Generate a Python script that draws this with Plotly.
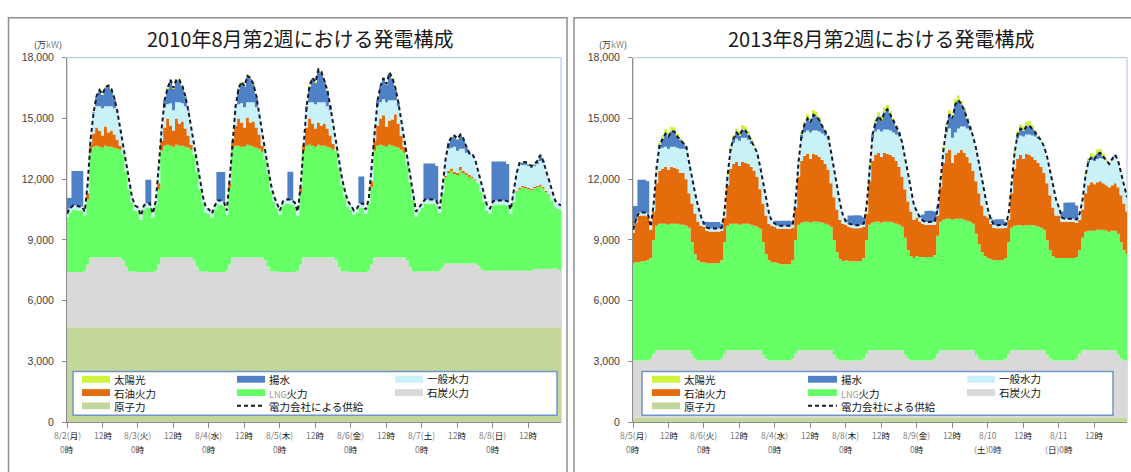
import plotly.graph_objects as go

W, H = 1131, 472
HOURS = list(range(168))

# ---------------- 2010, week of Aug 2 (unit: 万kW), one row per day, hours 0..23 ----------------
nuclear_2010 = [
    [4680, 4680, 4680, 4680, 4680, 4680, 4680, 4680, 4680, 4680, 4680, 4680, 4680, 4680, 4680, 4680, 4680, 4680, 4680, 4680, 4680, 4680, 4680, 4680],
    [4680, 4680, 4680, 4680, 4680, 4680, 4680, 4680, 4680, 4680, 4680, 4680, 4680, 4680, 4680, 4680, 4680, 4680, 4680, 4680, 4680, 4680, 4680, 4680],
    [4680, 4680, 4680, 4680, 4680, 4680, 4680, 4680, 4680, 4680, 4680, 4680, 4680, 4680, 4680, 4680, 4680, 4680, 4680, 4680, 4680, 4680, 4680, 4680],
    [4680, 4680, 4680, 4680, 4680, 4680, 4680, 4680, 4680, 4680, 4680, 4680, 4680, 4680, 4680, 4680, 4680, 4680, 4680, 4680, 4680, 4680, 4680, 4680],
    [4680, 4680, 4680, 4680, 4680, 4680, 4680, 4680, 4680, 4680, 4680, 4680, 4680, 4680, 4680, 4680, 4680, 4680, 4680, 4680, 4680, 4680, 4680, 4680],
    [4680, 4680, 4680, 4680, 4680, 4680, 4680, 4680, 4680, 4680, 4680, 4680, 4680, 4680, 4680, 4680, 4680, 4680, 4680, 4680, 4680, 4680, 4680, 4680],
    [4680, 4680, 4680, 4680, 4680, 4680, 4680, 4680, 4680, 4680, 4680, 4680, 4680, 4680, 4680, 4680, 4680, 4680, 4680, 4680, 4680, 4680, 4680, 4680],
]
coal_2010 = [
    [2740, 2740, 2740, 2740, 2740, 2740, 2800, 3100, 3450, 3450, 3450, 3450, 3450, 3450, 3450, 3450, 3450, 3450, 3450, 3300, 3000, 2760, 2760, 2760],
    [2740, 2740, 2740, 2740, 2740, 2740, 2800, 3100, 3450, 3450, 3450, 3450, 3450, 3450, 3450, 3450, 3450, 3450, 3450, 3300, 3000, 2760, 2760, 2760],
    [2740, 2740, 2740, 2740, 2740, 2740, 2800, 3100, 3450, 3450, 3450, 3450, 3450, 3450, 3450, 3450, 3450, 3450, 3450, 3300, 3000, 2760, 2760, 2760],
    [2740, 2740, 2740, 2740, 2740, 2740, 2800, 3100, 3450, 3450, 3450, 3450, 3450, 3450, 3450, 3450, 3450, 3450, 3450, 3300, 3000, 2760, 2760, 2760],
    [2740, 2740, 2740, 2740, 2740, 2740, 2800, 3100, 3450, 3450, 3450, 3450, 3450, 3450, 3450, 3450, 3450, 3450, 3450, 3300, 3000, 2760, 2760, 2760],
    [2760, 2760, 2760, 2760, 2760, 2760, 2800, 2950, 3150, 3150, 3150, 3150, 3150, 3150, 3150, 3150, 3150, 3150, 3150, 3050, 2900, 2800, 2800, 2800],
    [2800, 2800, 2800, 2800, 2800, 2800, 2800, 2800, 2800, 2800, 2800, 2800, 2800, 2800, 2880, 2880, 2880, 2880, 2880, 2880, 2880, 2950, 2850, 2800],
]
lng_2010 = [
    [2680, 2930, 3080, 3080, 3030, 3030, 2720, 3220, 5170, 5470, 5520, 5470, 5420, 5520, 5470, 5470, 5420, 5370, 5320, 5220, 4670, 4060, 3410, 3010],
    [2980, 2580, 3080, 3180, 3180, 2680, 3220, 3720, 5270, 5520, 5570, 5520, 5470, 5570, 5520, 5520, 5470, 5420, 5320, 5220, 4670, 4060, 3410, 2910],
    [2880, 2680, 3080, 3330, 3330, 3280, 2770, 3820, 5370, 5520, 5520, 5470, 5470, 5570, 5520, 5470, 5420, 5370, 5220, 5020, 4570, 3960, 3460, 3110],
    [2830, 3280, 3380, 3380, 3330, 3230, 2720, 3520, 5270, 5520, 5570, 5520, 5470, 5570, 5520, 5520, 5470, 5420, 5320, 5420, 4870, 4260, 3710, 3210],
    [3080, 2830, 2930, 3180, 3180, 2880, 3320, 3820, 5270, 5520, 5570, 5520, 5470, 5570, 5520, 5470, 5420, 5320, 5170, 4720, 4170, 3560, 2710, 2960],
    [3160, 3360, 3360, 3360, 3360, 3260, 2870, 3670, 4270, 4470, 4570, 4420, 4370, 4620, 4470, 4370, 4270, 4220, 4120, 4070, 3820, 3420, 2970, 2820],
    [3220, 3270, 3270, 3270, 3270, 3220, 2820, 3420, 3870, 4020, 4120, 4070, 4020, 3970, 3990, 4040, 4090, 3990, 3790, 3640, 3390, 3020, 3020, 3020],
]
oil_2010 = [
    [0, 0, 0, 0, 0, 0, 0, 300, 400, 650, 900, 800, 600, 950, 700, 800, 650, 450, 200, 0, 0, 0, 0, 0],
    [0, 0, 0, 0, 0, 0, 0, 300, 500, 900, 1300, 1000, 800, 1300, 1100, 1200, 900, 600, 250, 0, 0, 0, 0, 0],
    [0, 0, 0, 0, 0, 0, 0, 200, 400, 1000, 1350, 1200, 950, 1350, 1150, 1250, 1000, 700, 300, 0, 0, 0, 0, 0],
    [0, 0, 0, 0, 0, 0, 0, 300, 300, 900, 1300, 1100, 900, 1100, 1000, 1100, 900, 600, 300, 0, 0, 0, 0, 0],
    [0, 0, 0, 0, 0, 0, 0, 300, 500, 1000, 1300, 1500, 1000, 1200, 1300, 1600, 1200, 700, 300, 0, 0, 0, 0, 0],
    [0, 0, 0, 0, 0, 0, 0, 0, 50, 100, 120, 120, 100, 150, 120, 100, 100, 80, 50, 0, 0, 0, 0, 0],
    [0, 0, 0, 0, 0, 0, 0, 0, 50, 80, 80, 80, 80, 80, 80, 80, 80, 80, 80, 50, 0, 0, 0, 0],
]
hydro_2010 = [
    [200, 200, 200, 200, 200, 200, 200, 500, 300, 1000, 1050, 1200, 1350, 1000, 1300, 1200, 1300, 1350, 850, 400, 350, 300, 250, 250],
    [200, 200, 200, 200, 200, 200, 200, 800, 600, 1000, 700, 1100, 1000, 800, 1050, 900, 1100, 1200, 800, 400, 350, 300, 250, 250],
    [200, 200, 200, 200, 200, 200, 200, 200, 150, 900, 700, 950, 1000, 750, 1000, 950, 1000, 1100, 650, 400, 350, 300, 250, 250],
    [200, 200, 200, 200, 200, 200, 200, 100, 100, 900, 800, 1050, 1200, 1000, 1150, 1050, 1100, 1250, 950, 400, 350, 300, 250, 250],
    [200, 200, 200, 200, 200, 200, 200, 800, 600, 950, 800, 800, 1200, 1000, 950, 700, 850, 850, 400, 400, 350, 300, 250, 200],
    [200, 200, 200, 200, 200, 200, 200, 400, 850, 1100, 1030, 1230, 1100, 900, 1080, 1000, 1000, 1120, 950, 600, 400, 300, 250, 250],
    [200, 200, 200, 200, 200, 200, 200, 500, 900, 1150, 1020, 1070, 1070, 1020, 1020, 1070, 1170, 1170, 970, 650, 450, 300, 230, 200],
]
pumped_2010 = [
    [770, 520, 1700, 1700, 1750, 1750, 0, 0, 0, 50, 450, 750, 650, 900, 970, 800, 470, 50, 0, 0, 0, 0, 0, 0],
    [0, 0, 0, 1170, 1170, 0, 0, 0, 0, 350, 750, 1100, 1050, 1090, 1050, 800, 480, 50, 0, 0, 0, 0, 0, 0],
    [0, 0, 0, 1400, 1400, 1450, 0, 0, 0, 50, 750, 1000, 1000, 1250, 1150, 850, 530, 0, 0, 0, 0, 0, 0, 0],
    [0, 0, 0, 1370, 1420, 0, 0, 0, 0, 150, 750, 1150, 1050, 1570, 1450, 1050, 780, 200, 0, 0, 0, 0, 0, 0],
    [0, 0, 0, 1330, 1330, 0, 0, 0, 0, 300, 750, 1000, 850, 1310, 1050, 550, 180, 0, 0, 0, 0, 0, 0, 0],
    [0, 1770, 1770, 1770, 1770, 1750, 0, 0, 0, 300, 520, 520, 570, 680, 470, 280, 100, 0, 0, 0, 0, 0, 0, 0],
    [1970, 1920, 1920, 1920, 1920, 1850, 0, 0, 0, 50, 120, 120, 70, 70, 70, 120, 280, 100, 0, 0, 0, 0, 0, 0],
]
solar_2010 = [
    [0, 0, 0, 0, 0, 0, 0, 0, 0, 0, 50, 50, 50, 50, 50, 50, 30, 0, 0, 0, 0, 0, 0, 0],
    [0, 0, 0, 0, 0, 0, 0, 0, 0, 0, 50, 50, 50, 50, 50, 50, 20, 0, 0, 0, 0, 0, 0, 0],
    [0, 0, 0, 0, 0, 0, 0, 0, 0, 0, 50, 50, 50, 50, 50, 50, 20, 0, 0, 0, 0, 0, 0, 0],
    [0, 0, 0, 0, 0, 0, 0, 0, 0, 0, 50, 50, 50, 50, 50, 50, 20, 0, 0, 0, 0, 0, 0, 0],
    [0, 0, 0, 0, 0, 0, 0, 0, 0, 0, 50, 50, 50, 50, 50, 50, 20, 0, 0, 0, 0, 0, 0, 0],
    [0, 0, 0, 0, 0, 0, 0, 0, 0, 0, 30, 30, 30, 30, 30, 20, 0, 0, 0, 0, 0, 0, 0, 0],
    [0, 0, 0, 0, 0, 0, 0, 0, 0, 20, 30, 30, 30, 30, 30, 30, 20, 0, 0, 0, 0, 0, 0, 0],
]
supply_2010 = [
    [10300, 10550, 10700, 10700, 10650, 10650, 10400, 11800, 14000, 15300, 16100, 16400, 16200, 16550, 16620, 16450, 16000, 15350, 14500, 13600, 12700, 11800, 11100, 10700],
    [10600, 10200, 10700, 10800, 10800, 10300, 10900, 12600, 14500, 15900, 16500, 16900, 16500, 16940, 16900, 16600, 16100, 15400, 14500, 13600, 12700, 11800, 11100, 10600],
    [10500, 10300, 10700, 10950, 10950, 10900, 10450, 12000, 14050, 15600, 16500, 16800, 16600, 17100, 17000, 16700, 16100, 15300, 14300, 13400, 12600, 11700, 11150, 10800],
    [10450, 10900, 11000, 11000, 10950, 10850, 10400, 11700, 13800, 15600, 16600, 17000, 16800, 17420, 17300, 16900, 16400, 15600, 14700, 13800, 12900, 12000, 11400, 10900],
    [10700, 10450, 10550, 10800, 10800, 10500, 11000, 12700, 14500, 15900, 16600, 17000, 16700, 17260, 17000, 16500, 15800, 15000, 14000, 13100, 12200, 11300, 10400, 10600],
    [10800, 11000, 11000, 11000, 11000, 10900, 10550, 11700, 13000, 13800, 14100, 14150, 14000, 14210, 14000, 13600, 13300, 13250, 12950, 12400, 11800, 11200, 10700, 10550],
    [10900, 10950, 10950, 10950, 10950, 10900, 10500, 11400, 12300, 12800, 12850, 12850, 12750, 12650, 12750, 12900, 13200, 12900, 12400, 11900, 11400, 10950, 10780, 10700],
]

# ---------------- 2013, week of Aug 5 (unit: 万kW), one row per day, hours 0..23 ----------------
nuclear_2013 = [
    [230, 230, 230, 230, 230, 230, 230, 230, 230, 230, 230, 230, 230, 230, 230, 230, 230, 230, 230, 230, 230, 230, 230, 230],
    [230, 230, 230, 230, 230, 230, 230, 230, 230, 230, 230, 230, 230, 230, 230, 230, 230, 230, 230, 230, 230, 230, 230, 230],
    [230, 230, 230, 230, 230, 230, 230, 230, 230, 230, 230, 230, 230, 230, 230, 230, 230, 230, 230, 230, 230, 230, 230, 230],
    [230, 230, 230, 230, 230, 230, 230, 230, 230, 230, 230, 230, 230, 230, 230, 230, 230, 230, 230, 230, 230, 230, 230, 230],
    [230, 230, 230, 230, 230, 230, 230, 230, 230, 230, 230, 230, 230, 230, 230, 230, 230, 230, 230, 230, 230, 230, 230, 230],
    [230, 230, 230, 230, 230, 230, 230, 230, 230, 230, 230, 230, 230, 230, 230, 230, 230, 230, 230, 230, 230, 230, 230, 230],
    [230, 230, 230, 230, 230, 230, 230, 230, 230, 230, 230, 230, 230, 230, 230, 230, 230, 230, 230, 230, 230, 230, 230, 230],
]
coal_2013 = [
    [2820, 2820, 2820, 2820, 2820, 2820, 2900, 3150, 3320, 3320, 3320, 3320, 3320, 3320, 3320, 3320, 3320, 3320, 3320, 3320, 3100, 2900, 2820, 2820],
    [2820, 2820, 2820, 2820, 2820, 2820, 2900, 3150, 3320, 3320, 3320, 3320, 3320, 3320, 3320, 3320, 3320, 3320, 3320, 3320, 3100, 2900, 2820, 2820],
    [2820, 2820, 2820, 2820, 2820, 2820, 2900, 3150, 3320, 3320, 3320, 3320, 3320, 3320, 3320, 3320, 3320, 3320, 3320, 3320, 3100, 2900, 2820, 2820],
    [2820, 2820, 2820, 2820, 2820, 2820, 2900, 3150, 3320, 3320, 3320, 3320, 3320, 3320, 3320, 3320, 3320, 3320, 3320, 3320, 3100, 2900, 2820, 2820],
    [2820, 2820, 2820, 2820, 2820, 2820, 2900, 3150, 3320, 3320, 3320, 3320, 3320, 3320, 3320, 3320, 3320, 3320, 3320, 3320, 3100, 2900, 2820, 2820],
    [2820, 2820, 2820, 2820, 2820, 2820, 2900, 3150, 3320, 3320, 3320, 3320, 3320, 3320, 3320, 3320, 3320, 3320, 3320, 3320, 3100, 2900, 2820, 2820],
    [2820, 2820, 2820, 2820, 2820, 2820, 2900, 3150, 3320, 3320, 3320, 3320, 3320, 3320, 3320, 3320, 3320, 3320, 3320, 3320, 3100, 2900, 2820, 2820],
]
lng_2013 = [
    [4800, 4850, 4850, 4900, 4900, 4950, 4970, 5620, 6150, 6250, 6250, 6250, 6200, 6250, 6250, 6250, 6200, 6200, 6150, 6050, 5570, 5170, 4950, 4850],
    [4850, 4800, 4800, 4800, 4800, 4800, 4870, 5520, 6150, 6250, 6250, 6250, 6200, 6250, 6250, 6250, 6200, 6150, 6100, 6000, 5570, 5170, 4950, 4850],
    [4850, 4800, 4750, 4750, 4750, 4750, 4870, 5620, 6200, 6300, 6350, 6350, 6300, 6350, 6350, 6330, 6300, 6250, 6200, 6100, 5670, 5270, 5000, 4900],
    [4950, 4900, 4900, 4900, 4900, 4900, 4970, 5620, 6200, 6300, 6350, 6350, 6300, 6350, 6350, 6350, 6300, 6250, 6200, 6100, 5770, 5370, 5150, 5050],
    [5150, 5100, 5100, 5100, 5100, 5100, 5120, 5820, 6350, 6450, 6500, 6500, 6450, 6500, 6500, 6500, 6450, 6400, 6350, 6250, 5970, 5670, 5350, 5150],
    [5050, 5000, 4950, 4950, 4950, 4950, 4970, 5520, 6050, 6150, 6170, 6170, 6150, 6170, 6170, 6170, 6150, 6100, 6050, 5950, 5670, 5370, 5150, 5050],
    [5050, 5050, 5050, 5050, 5050, 5050, 5020, 5120, 5550, 5850, 5900, 5900, 5900, 5950, 5950, 5950, 5900, 5850, 5900, 5900, 5970, 5770, 5450, 5250],
]
oil_2013 = [
    [1500, 1950, 2300, 2250, 2250, 2150, 1400, 1400, 2100, 2600, 2700, 2800, 2700, 2800, 2750, 2700, 2550, 2550, 2300, 1700, 1900, 2000, 1900, 1800],
    [1750, 1600, 1560, 1560, 1560, 1560, 1450, 1200, 2000, 2700, 2950, 3050, 2900, 3050, 3000, 2950, 2850, 2700, 2450, 1950, 1900, 1900, 1800, 1800],
    [1750, 1700, 1750, 1750, 1750, 1750, 1600, 1600, 2350, 3050, 3250, 3350, 3150, 3350, 3300, 3220, 3100, 2950, 2700, 2150, 2100, 2100, 1950, 1850],
    [1750, 1700, 1650, 1620, 1620, 1650, 1550, 1300, 2150, 3050, 3300, 3400, 3250, 3400, 3350, 3300, 3250, 3100, 2850, 2450, 2400, 2400, 2200, 1900],
    [1900, 1750, 1650, 1580, 1580, 1580, 1500, 1000, 1700, 2800, 3250, 3400, 2800, 3150, 3250, 3400, 3300, 3150, 2900, 2600, 2600, 2500, 2300, 2000],
    [2000, 1750, 1600, 1570, 1570, 1570, 1500, 1100, 1700, 2800, 3280, 3480, 3300, 3530, 3480, 3380, 3250, 3150, 3000, 2800, 2800, 2700, 2400, 2100],
    [2100, 1800, 1790, 1790, 1790, 1790, 1700, 1500, 1400, 1900, 2250, 2400, 2300, 2350, 2400, 2300, 2250, 2200, 2250, 2350, 2300, 2300, 2300, 2100],
]
hydro_2013 = [
    [150, 150, 150, 150, 150, 150, 150, 400, 800, 1100, 1050, 1000, 1050, 1000, 1050, 1050, 1200, 1200, 1500, 1500, 1200, 1000, 750, 450],
    [150, 150, 150, 150, 150, 150, 150, 400, 500, 900, 1050, 1150, 1250, 1200, 1250, 1200, 1150, 1200, 1200, 1100, 1000, 800, 500, 200],
    [150, 150, 150, 150, 150, 150, 150, 400, 800, 1100, 1150, 1150, 1300, 1150, 1200, 1250, 1300, 1400, 1550, 1500, 1300, 1100, 800, 400],
    [150, 150, 150, 150, 150, 150, 150, 400, 800, 1100, 1150, 1150, 1250, 1150, 1200, 1200, 1200, 1300, 1500, 1700, 1500, 1200, 900, 700],
    [300, 200, 150, 150, 150, 150, 150, 300, 400, 700, 1000, 1050, 1250, 1100, 1200, 1150, 1300, 1400, 1600, 1700, 1600, 1500, 1300, 1000],
    [400, 200, 150, 150, 150, 150, 150, 300, 500, 800, 1000, 950, 1100, 950, 1000, 1050, 1150, 1200, 1300, 1300, 1300, 1200, 1100, 800],
    [400, 200, 150, 150, 150, 150, 150, 300, 500, 900, 1100, 1100, 1150, 1150, 1150, 1200, 1200, 1150, 1250, 1300, 1300, 1100, 900, 700],
]
pumped_2013 = [
    [1180, 680, 1620, 1620, 1620, 1600, 0, 0, 0, 200, 450, 650, 600, 770, 750, 550, 450, 300, 100, 0, 0, 0, 0, 0],
    [100, 300, 320, 320, 320, 320, 200, 0, 0, 100, 200, 300, 250, 400, 350, 250, 150, 0, 0, 0, 0, 0, 0, 0],
    [150, 250, 250, 250, 250, 250, 150, 0, 0, 200, 400, 600, 500, 780, 700, 550, 350, 200, 100, 0, 0, 0, 0, 0],
    [100, 400, 450, 500, 500, 450, 300, 0, 0, 200, 450, 650, 550, 850, 1000, 800, 600, 400, 200, 0, 0, 0, 0, 0],
    [0, 100, 300, 550, 560, 560, 500, 200, 0, 0, 300, 700, 950, 1400, 1400, 1100, 800, 500, 200, 0, 0, 0, 0, 0],
    [0, 100, 250, 300, 300, 300, 150, 0, 0, 0, 200, 350, 300, 400, 450, 350, 200, 100, 0, 0, 0, 0, 0, 0],
    [0, 300, 800, 810, 810, 810, 700, 0, 0, 0, 100, 150, 100, 250, 250, 100, 0, 0, 50, 100, 0, 0, 0, 0],
]
solar_2013 = [
    [0, 0, 0, 0, 0, 0, 0, 20, 50, 80, 150, 200, 220, 220, 200, 160, 100, 50, 10, 0, 0, 0, 0, 0],
    [0, 0, 0, 0, 0, 0, 0, 20, 50, 80, 150, 200, 220, 220, 200, 160, 100, 50, 10, 0, 0, 0, 0, 0],
    [0, 0, 0, 0, 0, 0, 0, 20, 60, 100, 150, 200, 230, 240, 220, 170, 100, 50, 10, 0, 0, 0, 0, 0],
    [0, 0, 0, 0, 0, 0, 0, 20, 60, 100, 150, 200, 230, 240, 220, 170, 100, 50, 10, 0, 0, 0, 0, 0],
    [0, 0, 0, 0, 0, 0, 0, 20, 60, 100, 150, 200, 230, 250, 230, 180, 110, 50, 10, 0, 0, 0, 0, 0],
    [0, 0, 0, 0, 0, 0, 0, 20, 60, 100, 150, 200, 230, 240, 220, 170, 100, 50, 10, 0, 0, 0, 0, 0],
    [0, 0, 0, 0, 0, 0, 0, 20, 50, 80, 120, 180, 200, 220, 200, 160, 100, 50, 10, 0, 0, 0, 0, 0],
]
supply_2013 = [
    [9500, 10000, 10350, 10350, 10350, 10300, 9650, 10800, 12600, 13700, 14000, 14250, 14100, 14370, 14350, 14100, 13950, 13800, 13600, 12800, 12000, 11300, 10650, 10150],
    [9800, 9600, 9560, 9560, 9560, 9560, 9600, 10500, 12200, 13500, 14000, 14300, 14150, 14450, 14400, 14200, 13900, 13600, 13300, 12600, 11800, 11000, 10300, 9900],
    [9800, 9700, 9700, 9700, 9700, 9700, 9750, 11000, 12900, 14200, 14700, 15000, 14800, 15180, 15100, 14900, 14600, 14350, 14100, 13300, 12400, 11600, 10800, 10200],
    [9900, 9800, 9750, 9720, 9720, 9750, 9800, 10700, 12700, 14200, 14800, 15100, 14900, 15300, 15450, 15200, 14900, 14600, 14300, 13800, 13000, 12100, 11300, 10700],
    [10400, 10100, 9950, 9880, 9880, 9880, 9900, 10500, 12000, 13500, 14600, 15200, 15000, 15700, 15900, 15700, 15400, 15000, 14600, 14100, 13500, 12800, 12000, 11200],
    [10500, 10000, 9750, 9720, 9720, 9720, 9750, 10300, 11800, 13300, 14200, 14500, 14400, 14600, 14650, 14500, 14300, 14100, 13900, 13600, 13100, 12400, 11700, 11000],
    [10600, 10100, 10040, 10040, 10040, 10040, 10000, 10300, 11000, 12200, 12900, 13100, 13000, 13250, 13300, 13100, 12900, 12750, 13000, 13200, 12900, 12300, 11700, 11100],
]

# ---------------- labels ----------------
TITLE_2010 = "2010年8月第2週における発電構成"
TITLE_2013 = "2013年8月第2週における発電構成"
TICK_HOURS = [0, 12, 24, 36, 48, 60, 72, 84, 96, 108, 120, 132, 144, 156]
ticks_top_2010 = ["8/2(月)", "12時", "8/3(火)", "12時", "8/4(水)", "12時", "8/5(木)", "12時",
                  "8/6(金)", "12時", "8/7(土)", "12時", "8/8(日)", "12時"]
ticks_bottom_2010 = ["0時", "", "0時", "", "0時", "", "0時", "", "0時", "", "0時", "", "0時", ""]
ticks_top_2013 = ["8/5(月)", "12時", "8/6(火)", "12時", "8/4(水)", "12時", "8/8(木)", "12時",
                  "8/9(金)", "12時", "8/10", "12時", "8/11", "12時"]
ticks_bottom_2013 = ["0時", "", "0時", "", "0時", "", "0時", "", "0時", "", "(土)0時", "", "(日)0時", ""]
Y_TICKS = [0, 3000, 6000, 9000, 12000, 15000, 18000]

SERIES_NAMES = ["原子力", "石炭火力", "LNG火力", "石油火力", "一般水力", "揚水", "太陽光"]
COLORS = {
    "原子力": "#c4d79b",
    "石炭火力": "#d9d9d9",
    "LNG火力": "#66ff66",
    "石油火力": "#e46c0a",
    "一般水力": "#c9f1f8",
    "揚水": "#4f81c7",
    "太陽光": "#cdf53a",
}
SUPPLY_NAME = "電力会社による供給"
# legend grid: columns of (series name or supply line) read top to bottom
LEGEND_COLUMNS = [
    ["太陽光", "石油火力", "原子力"],
    ["揚水", "LNG火力", SUPPLY_NAME],
    ["一般水力", "石炭火力"],
]

CJK = "Noto Sans CJK JP"
NUM = "Liberation Sans"


def flat(rows):
    return [v for row in rows for v in row]


def px(x):
    return x / W


def py(y):
    return 1 - y / H


fig = go.Figure()

panels = [
    dict(xa="x", ya="y", stack="s2010",
         series=[nuclear_2010, coal_2010, lng_2010, oil_2010, hydro_2010, pumped_2010, solar_2010],
         supply=supply_2010, title=TITLE_2010, title_x=300,
         top=ticks_top_2010, bottom=ticks_bottom_2010,
         plot=(67, 561), unit_x=48, legend_box=(73, 557),
         cols=[(82, 110), (237, 265), (395, 423)]),
    dict(xa="x2", ya="y2", stack="s2013",
         series=[nuclear_2013, coal_2013, lng_2013, oil_2013, hydro_2013, pumped_2013, solar_2013],
         supply=supply_2013, title=TITLE_2013, title_x=881,
         top=ticks_top_2013, bottom=ticks_bottom_2013,
         plot=(633, 1127), unit_x=613, legend_box=(642, 1113),
         cols=[(652, 680), (808, 837), (967, 995)]),
]

PLOT_TOP, PLOT_BOTTOM = 53, 427

for p in panels:
    for name, rows in zip(SERIES_NAMES, p["series"]):
        fig.add_trace(go.Scatter(
            x=HOURS, y=flat(rows), xaxis=p["xa"], yaxis=p["ya"],
            mode="lines", stackgroup=p["stack"],
            line=dict(width=0, shape="hvh"), fillcolor=COLORS[name],
            name=name, showlegend=False, hoverinfo="skip",
        ))
    fig.add_trace(go.Scatter(
        x=HOURS, y=flat(p["supply"]), xaxis=p["xa"], yaxis=p["ya"],
        mode="lines", line=dict(color="#15172b", width=2, dash="4px,3px"),
        name=SUPPLY_NAME, showlegend=False, hoverinfo="skip",
    ))

axis_common_x = dict(range=[0, 167], tickvals=TICK_HOURS, ticks="outside", ticklen=5,
                     tickcolor="#8c8c8c", showticklabels=False, showline=True,
                     linecolor="#8c8c8c", linewidth=1, showgrid=False, zeroline=False,
                     fixedrange=True)
axis_common_y = dict(range=[0, 18000], tickvals=Y_TICKS, tickformat=",d", ticks="outside",
                     ticklen=4, tickcolor="#8c8c8c", showline=True, linecolor="#8c8c8c",
                     linewidth=1, showgrid=False, zeroline=False, fixedrange=True,
                     tickfont=dict(family=NUM, size=10.5, color="#404040"),
                     ticklabelstandoff=6,
                     domain=[py(PLOT_BOTTOM), py(PLOT_TOP)])

fig.update_layout(
    width=W, height=H, autosize=False,
    margin=dict(l=0, r=0, t=0, b=0),
    paper_bgcolor="white", plot_bgcolor="white",
    xaxis=dict(domain=[px(67), px(561)], anchor="y", **axis_common_x),
    yaxis=dict(anchor="x", **axis_common_y),
    xaxis2=dict(domain=[px(633), px(1127)], anchor="y2", **axis_common_x),
    yaxis2=dict(anchor="x2", **axis_common_y),
)


def tick_html(s):
    out = []
    for ch in s:
        if ord(ch) > 0x2E80:
            out.append(f"<span style='color:#111111'>{ch}</span>")
        else:
            out.append(ch)
    return "".join(out)


def legend_label(name):
    if name == "LNG火力":
        return "<span style='color:#9a9a9a;font-size:9px'>LNG</span>火力"
    return name


shapes = []
annotations = []

# outer frames of the two chart panels
for x0, x1 in [(8.5, 567), (574, 1140)]:
    shapes.append(dict(type="rect", xref="paper", yref="paper",
                       x0=px(x0), x1=px(x1), y0=py(490), y1=py(12),
                       line=dict(color="#8f8f8f", width=1.5), fillcolor="rgba(0,0,0,0)",
                       layer="below"))

LEGEND_FONT = 10.5
ROW_STEP = LEGEND_FONT * 1.3
ROW0 = 383

for p in panels:
    xl, xr = p["plot"]
    # plot-area border
    shapes.append(dict(type="rect", xref="paper", yref="paper",
                       x0=px(xl), x1=px(xr), y0=py(PLOT_BOTTOM), y1=py(PLOT_TOP),
                       line=dict(color="#a9c1e0", width=1), fillcolor="rgba(0,0,0,0)",
                       layer="below"))
    # title
    annotations.append(dict(x=px(p["title_x"]), y=py(33), xref="paper", yref="paper",
                            text=p["title"], showarrow=False, xanchor="center", yanchor="middle",
                            font=dict(family=CJK, size=20, color="#1a1a1a")))
    # unit label
    annotations.append(dict(x=px(p["unit_x"]), y=py(39), xref="paper", yref="paper",
                            text="(万<span style='color:#8a8a8a'>kW</span>)", showarrow=False,
                            xanchor="center", yanchor="middle",
                            font=dict(family=CJK, size=9, color="#333333")))
    # x tick labels, two lines
    for h, t1, t2 in zip(TICK_HOURS, p["top"], p["bottom"]):
        annotations.append(dict(x=h, y=py(440), xref=p["xa"], yref="paper",
                                text=tick_html(t1), showarrow=False,
                                xanchor="center", yanchor="middle",
                                font=dict(family=CJK, size=8.5, color="#7a7a7a")))
        if t2:
            annotations.append(dict(x=h, y=py(455), xref=p["xa"], yref="paper",
                                    text=tick_html(t2), showarrow=False,
                                    xanchor="center", yanchor="middle",
                                    font=dict(family=CJK, size=8.5, color="#7a7a7a")))
    # legend box
    lx0, lx1 = p["legend_box"]
    shapes.append(dict(type="rect", xref="paper", yref="paper",
                       x0=px(lx0), x1=px(lx1), y0=py(420), y1=py(375),
                       line=dict(color="#7294c8", width=1.5), fillcolor="white",
                       layer="above"))
    for c, names in enumerate(LEGEND_COLUMNS):
        sx0, sx1 = p["cols"][c]
        for r, name in enumerate(names):
            yy = ROW0 + r * ROW_STEP
            if name == SUPPLY_NAME:
                shapes.append(dict(type="line", xref="paper", yref="paper",
                                   x0=px(sx0), x1=px(sx1), y0=py(yy), y1=py(yy),
                                   line=dict(color="#15172b", width=2, dash="4px,3px"),
                                   layer="above"))
            else:
                shapes.append(dict(type="rect", xref="paper", yref="paper",
                                   x0=px(sx0), x1=px(sx1), y0=py(yy + 3.5), y1=py(yy - 3.5),
                                   line=dict(width=0), fillcolor=COLORS[name], layer="above"))
        mid = ROW0 + (len(names) - 1) * ROW_STEP / 2
        annotations.append(dict(x=px(sx1 + 2), y=py(mid), xref="paper", yref="paper",
                                text="<br>".join(legend_label(n) for n in names),
                                showarrow=False, xanchor="left", yanchor="middle", align="left",
                                font=dict(family=CJK, size=LEGEND_FONT, color="#111111")))

fig.update_layout(shapes=shapes, annotations=annotations)

fig.write_html("out.html", config={"displayModeBar": False, "staticPlot": True})
